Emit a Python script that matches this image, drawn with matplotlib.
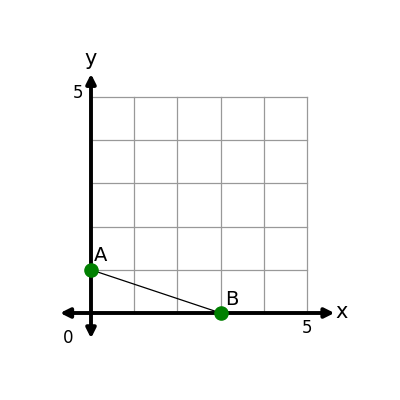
import matplotlib
matplotlib.use("Agg")
import matplotlib.pyplot as plt

grid_max = 5
point_labels = ["A", "B"]
point_x = [0, 3]
point_y = [1, 0]

fig = plt.figure(figsize=(4, 4), dpi=100)
ax = fig.add_axes([0, 0, 1, 1])
s = 43.2
ax.set_xlim(-91 / s, (400 - 91) / s)
ax.set_ylim(-(400 - 313) / s, 313 / s)
ax.axis("off")

for i in range(grid_max + 1):
    ax.plot([i, i], [0, grid_max], color="#999999", lw=0.9, zorder=1)
    ax.plot([0, grid_max], [i, i], color="#999999", lw=0.9, zorder=1)

ax.annotate("", xy=(-0.78, 0), xytext=(5.7, 0),
            arrowprops=dict(arrowstyle="<|-|>", color="black", lw=2.8, mutation_scale=14))
ax.annotate("", xy=(0, 5.6), xytext=(0, -0.65),
            arrowprops=dict(arrowstyle="<|-|>", color="black", lw=2.8, mutation_scale=14))

ax.plot(point_x, point_y, color="black", lw=0.9, zorder=2)
ax.scatter(point_x, point_y, s=90, color="green", zorder=3)
ax.text(0.07, 1.1, point_labels[0], fontsize=14, ha="left", va="bottom")
ax.text(3.1, 0.1, point_labels[1], fontsize=14, ha="left", va="bottom")

ax.text(0.0, 5.88, "y", fontsize=15, ha="center", va="center")
ax.text(5.8, 0.03, "x", fontsize=15, ha="center", va="center")
ax.text(-0.3, 5.1, "5", fontsize=12, ha="center", va="center")
ax.text(5.0, -0.35, "5", fontsize=12, ha="center", va="center")
ax.text(-0.53, -0.58, "0", fontsize=12, ha="center", va="center")

fig.savefig("out.png", dpi=100)
